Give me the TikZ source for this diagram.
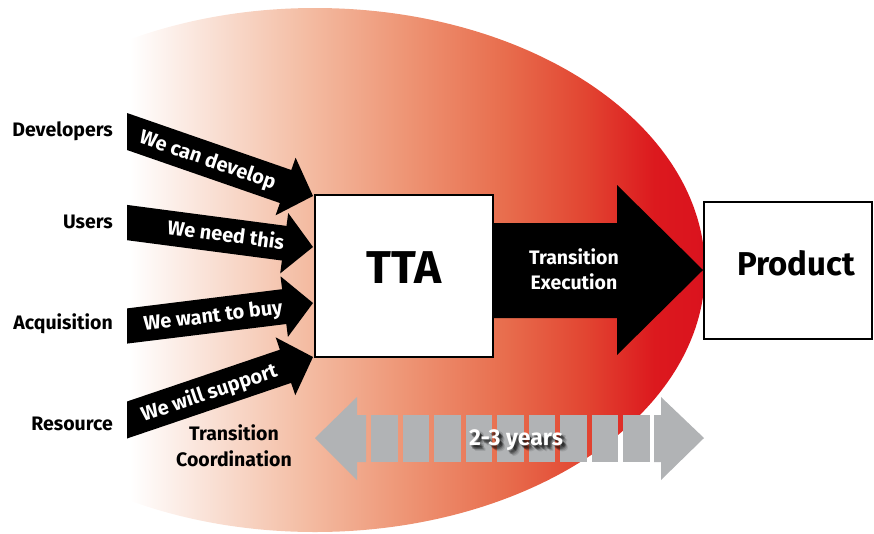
\documentclass[tikz,border=0pt]{standalone}
\usepackage{fontspec}
\setmainfont{Fira Sans}
\usetikzlibrary{calc}
\definecolor{gA}{RGB}{250,228,218}
\definecolor{gB}{RGB}{244,190,165}
\definecolor{gC}{RGB}{238,150,118}
\definecolor{gD}{RGB}{232,110,78}
\definecolor{gE}{RGB}{226,70,50}
\definecolor{gF}{RGB}{220,25,30}
\definecolor{gG}{RGB}{218,18,30}
\definecolor{yeargray}{RGB}{177,179,181}
\pgfdeclarehorizontalshading{bigshade}{100bp}{color(0bp)=(white); color(25bp)=(white); color(31.09bp)=(gA); color(39.78bp)=(gB); color(48.48bp)=(gC); color(57.17bp)=(gD); color(64.13bp)=(gE); color(70.22bp)=(gF); color(75bp)=(gG); color(100bp)=(gG)}
\tikzset{
  lbl/.style={font=\bfseries\fontsize{19.5}{22}\selectfont, text height=13.4pt, text depth=0pt, inner sep=0pt},
  arrtxt/.style={font=\bfseries\fontsize{20}{22}\selectfont, text=white, text height=13.8pt, text depth=0pt, inner sep=0pt},
  box/.style={draw=black, line width=2pt, fill=white, inner sep=0pt},
  blockarrow/.style={fill=black},
  yearblock/.style={fill=yeargray},
  yeartxt/.style={font=\bfseries\fontsize{23}{26}\selectfont, text height=15.8pt, text depth=0pt, inner sep=0pt},
}
\begin{document}
\begin{tikzpicture}[x=1pt,y=-1pt]
\useasboundingbox (0,0) rectangle (874,533);
% shaded background ellipse
\begin{scope}
  \clip (315,270) ellipse [x radius=390pt, y radius=262pt];
  \shade[shading=bigshade] (130,0) rectangle (710,533);
\end{scope}

% years arrow (segmented)
\fill[yearblock] (315,438) -- (357,397) -- (357,415) -- (366,415) -- (366,462) -- (357,462) -- (357,480) -- cycle;
\foreach \i in {0,...,8}{
  \fill[yearblock] ({371+31.5*\i},415) rectangle ({397.5+31.5*\i},462);
}
\fill[yearblock] (654,415) -- (661,415) -- (661,397) -- (704,438) -- (661,480) -- (661,462) -- (654,462) -- cycle;
\foreach \dx/\dy/\op in {1.5/2/0.25,2.5/3/0.25,3.5/4/0.2,4.5/5/0.15,5.5/6/0.1,2.5/4.5/0.15,4/2.5/0.15}{
  \node[yeartxt, text=black, opacity=\op] at (516+\dx,437.5+\dy) {2-3 years};
}
\node[yeartxt, text=white] (years) at (516,437.5) {2-3 years};

% boxes
\node[box, minimum width=178pt, minimum height=162pt] (tta) at (404,276) {};
\node[box, minimum width=168pt, minimum height=137pt] (prod) at (788,270.5) {};
\node[font=\bfseries\fontsize{46}{50}\selectfont, text height=31.5pt, text depth=0pt, inner sep=0pt] at (404,268) {TTA};
\node[font=\bfseries\fontsize{33}{40}\selectfont, text height=22.7pt, text depth=0pt, inner sep=0pt] at (796,264.5) {Product};

% big execution arrow
\fill[blockarrow] (tta.east |- 0,223) -- (617,223) -- (617,185) -- (prod.west |- 0,270) -- (617,355) -- (617,318) -- (tta.east |- 0,318) -- cycle;
\node[lbl, text=white] at (574,257.5) {Transition};
\node[lbl, text=white] at (574,283) {Execution};

% input arrows
\fill[blockarrow] (127,113) -- (291.3,170.0) -- (295.6,157.7) -- (313,196) -- (275.6,215.3) -- (279.9,203.0) -- (127,150) -- cycle;
\fill[blockarrow] (127,204.9) -- (286.5,225.9) -- (288.2,213.0) -- (313,247) -- (280.2,273.4) -- (281.9,260.5) -- (127,240.2) -- cycle;
\fill[blockarrow] (127,308.4) -- (282.1,289.2) -- (280.5,276.3) -- (313,303) -- (287.9,336.9) -- (286.3,324.0) -- (127,343.6) -- cycle;
\fill[blockarrow] (127,401.5) -- (279.9,349.7) -- (275.7,337.4) -- (313,357) -- (295.3,395.2) -- (291.1,382.9) -- (127,438.5) -- cycle;

\node[arrtxt, rotate=-19.1] at (208,159.5) {We can develop};
\node[arrtxt, rotate=-7.5] at (226,235) {We need this};
\node[arrtxt, rotate=7.05] at (213,315.5) {We want to buy};
\node[arrtxt, rotate=18.7] at (209,392.5) {We will support};

% left labels
\node[lbl, anchor=east] (dev) at (113,130) {Developers};
\node[lbl, anchor=east] (usr) at (113,221.5) {Users};
\node[lbl, anchor=east] (acq) at (113,322.5) {Acquisition};
\node[lbl, anchor=east] (res) at (113,424) {Resource};

\node[lbl] (coordA) at (234,434) {Transition};
\node[lbl] (coordB) at (234,460) {Coordination};
\end{tikzpicture}
\end{document}
